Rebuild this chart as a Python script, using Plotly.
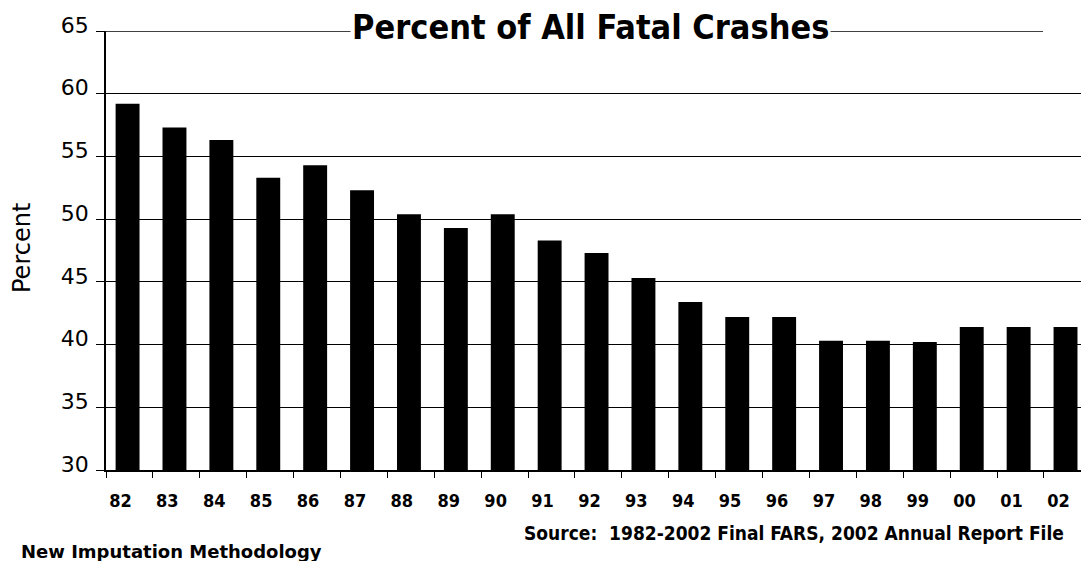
import plotly.graph_objects as go

years = ["82", "83", "84", "85", "86", "87", "88", "89", "90", "91", "92",
         "93", "94", "95", "96", "97", "98", "99", "00", "01", "02"]
percent = [59.2, 57.3, 56.3, 53.3, 54.3, 52.3, 50.4, 49.3, 50.4, 48.3, 47.3,
           45.3, 43.4, 42.2, 42.2, 40.3, 40.3, 40.2, 41.4, 41.4, 41.4]
y_ticks = [30, 35, 40, 45, 50, 55, 60, 65]

title_text = "Percent of All Fatal Crashes"
y_title = "Percent"
source_text = "Source:  1982-2002 Final FARS, 2002 Annual Report File"
note_text = "New Imputation Methodology"

W, H = 1081, 561
L, R, T, B = 106, 0, 31, 91
pw = W - L - R
ph = H - T - B

def px_x(x):
    return (x - L) / pw

def px_y(y):
    return 1 - (y - T) / ph

cond = "DejaVu Sans Condensed, DejaVu Sans, sans-serif"

fig = go.Figure()
fig.add_trace(go.Bar(
    x=years, y=percent, base=0,
    marker=dict(color="black", line=dict(width=0)),
    width=0.51, offset=-0.295,
    hoverinfo="x+y",
))

fig.update_layout(
    width=W, height=H,
    margin=dict(l=L, r=R, t=T, b=B, pad=0, autoexpand=False),
    paper_bgcolor="white", plot_bgcolor="white",
    showlegend=False,
    bargap=0.49,
    xaxis=dict(
        type="category",
        automargin=False,
        range=[-0.5, 20.29],
        showgrid=False,
        showline=True, linecolor="black", linewidth=1.5,
        ticks="outside", ticklen=6, tickcolor="black", tickwidth=1,
        tickson="boundaries",
        tickfont=dict(family=cond, size=18, color="black", weight="bold"),
        ticklabelstandoff=14,
        ticklabelshift=-9,
        zeroline=False,
    ),
    yaxis=dict(
        automargin=False,
        range=[30, 65],
        tickvals=y_ticks,
        showgrid=True, gridcolor="black", gridwidth=1,
        showline=True, linecolor="black", linewidth=1.5,
        ticks="outside", ticklen=8, tickcolor="black", tickwidth=1,
        tickfont=dict(family="DejaVu Sans, sans-serif", size=22, color="black"),
        ticklabelshift=-6,
        ticklabelstandoff=3,
        zeroline=False,
    ),
)

# top border line at 65 ends before the right edge
fig.add_shape(type="line", xref="paper", yref="y",
              x0=0, x1=px_x(1043), y0=65, y1=65,
              line=dict(color="black", width=1.5), layer="above")

fig.add_annotation(
    text=title_text, xref="paper", yref="paper",
    x=px_x(590), y=px_y(27), xanchor="center", yanchor="middle",
    showarrow=False, bgcolor="white",
    font=dict(family=cond, size=34, color="black", weight="bold"),
)
fig.add_annotation(
    text=y_title, xref="paper", yref="paper",
    x=px_x(22), y=px_y(248), xanchor="center", yanchor="middle",
    textangle=-90, showarrow=False,
    font=dict(family="DejaVu Sans, sans-serif", size=24, color="black"),
)
fig.add_annotation(
    text=source_text, xref="paper", yref="paper",
    x=px_x(1066), y=px_y(533), xanchor="right", yanchor="middle",
    showarrow=False,
    font=dict(family=cond, size=19, color="black", weight="bold"),
)
fig.add_annotation(
    text=note_text, xref="paper", yref="paper",
    x=px_x(19), y=px_y(551), xanchor="left", yanchor="middle",
    showarrow=False,
    font=dict(family="DejaVu Sans, sans-serif", size=18, color="black", weight="bold"),
)

fig.write_html("out.html",
               config={"displayModeBar": False},
               post_script="document.body.style.margin='0';document.body.style.overflow='hidden';")
